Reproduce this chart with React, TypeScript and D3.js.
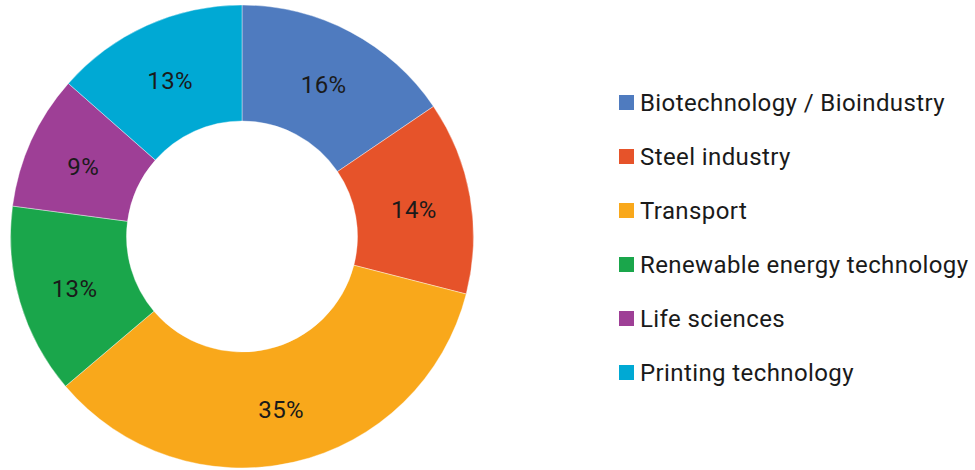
import { useRef, useEffect } from 'react'
import * as d3 from 'd3'

const categories = [
  'Biotechnology / Bioindustry',
  'Steel industry',
  'Transport',
  'Renewable energy technology',
  'Life sciences',
  'Printing technology',
]
// slice sizes (labels show the rounded figures)
const shares = [15.5, 13.5, 34.8, 13.3, 9.4, 13.5]
const labels = ['16%', '14%', '35%', '13%', '9%', '13%']
const colors = ['#4f7bbf', '#e6532a', '#f9a81b', '#1aa64b', '#9e3f96', '#00a9d4']

const W = 975
const H = 470
const FONT = 'Roboto, "DejaVu Sans", sans-serif'

export default function App() {
  const svgRef = useRef<SVGSVGElement>(null)

  useEffect(() => {
    if (!svgRef.current) return
    const svg = d3.select(svgRef.current)
    svg.selectAll('*').remove()

    const data = categories.map((c, i) => ({
      name: c,
      value: shares[i],
      label: labels[i],
      color: colors[i],
    }))

    const cx = 242
    const cy = 236.5
    const outer = 231.5
    const inner = 115.5

    const pie = d3
      .pie<any>()
      .sort(null)
      .value((d) => d.value)
    const arc = d3.arc<any>().innerRadius(inner).outerRadius(outer)
    const mid = (inner + outer) / 2 + 1
    const labelArc = d3.arc<any>().innerRadius(mid).outerRadius(mid)

    const g = svg.append('g').attr('transform', `translate(${cx},${cy})`)
    const arcs = pie(data)

    g.selectAll('path')
      .data(arcs)
      .join('path')
      .attr('d', arc)
      .attr('fill', (d) => d.data.color)
      .attr('stroke', '#fff')
      .attr('stroke-width', 0.4)

    g.selectAll('.lbl')
      .data(arcs)
      .join('text')
      .attr('class', 'lbl')
      .attr('transform', (d) => `translate(${labelArc.centroid(d)})`)
      .attr('text-anchor', 'middle')
      .attr('dy', '0.46em')
      .attr('font-family', FONT)
      .attr('font-size', 24)
      .attr('letter-spacing', 0.4)
      .attr('fill', '#1a1a1a')
      .text((d) => d.data.label)

    // Legend
    const y = d3.scalePoint().domain(categories).range([102.5, 372.5])

    const rows = svg
      .append('g')
      .selectAll('.row')
      .data(data)
      .join('g')
      .attr('class', 'row')
      .attr('transform', (d) => `translate(619,${y(d.name)})`)

    rows
      .append('rect')
      .attr('y', -7.5)
      .attr('width', 15)
      .attr('height', 15)
      .attr('fill', (d) => d.color)

    rows
      .append('text')
      .attr('x', 21)
      .attr('dy', '0.36em')
      .attr('font-family', FONT)
      .attr('font-size', 24)
      .attr('letter-spacing', 0.4)
      .attr('fill', '#1a1a1a')
      .text((d) => d.name)
  }, [])

  return (
    <svg
      ref={svgRef}
      width={W}
      height={H}
      style={{ position: 'absolute', left: 0, top: 0, background: '#fff' }}
    />
  )
}
